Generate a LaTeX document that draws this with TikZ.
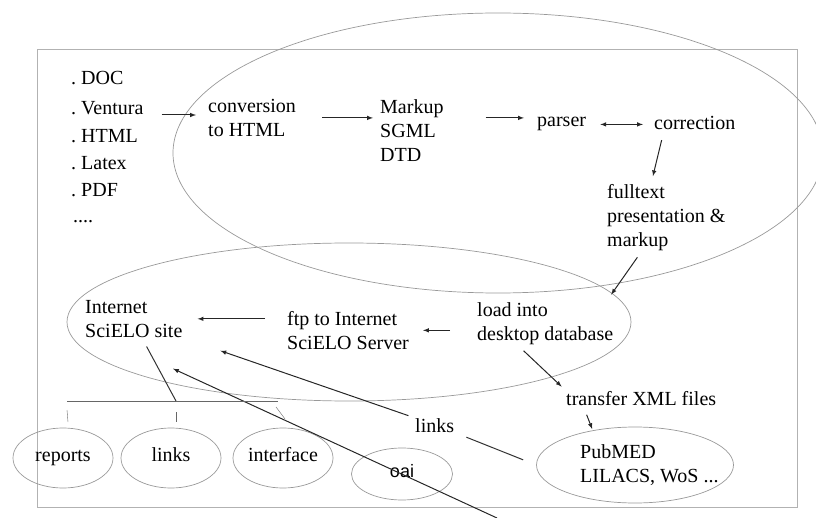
\documentclass[tikz,border=0pt]{standalone}
\usepackage{fontspec}
\setmainfont{Liberation Serif}
\newfontfamily\oaifont{Liberation Sans}
\usetikzlibrary{shapes.geometric}

\tikzset{
  txt/.style={inner sep=0pt, font=\fontsize{20}{24}\selectfont, align=left},
  arr/.style={-latex, line width=1pt, draw=black!85},
  wire/.style={line width=1pt, draw=black!80},
  bubble/.style={ellipse, draw=black!40, line width=0.7pt, inner sep=0pt,
    minimum width=100pt, minimum height=60pt, text height=12pt, text depth=6pt,
    font=\fontsize{20}{24}\selectfont},
  group/.style={draw=black!40, line width=0.7pt},
}

\begin{document}
\begin{tikzpicture}[x=1pt,y=-1pt]
\useasboundingbox (0,0) rectangle (816,518);

% frame and the two big groups
\draw[draw=black!30, line width=0.8pt] (37,49) rectangle (797,507);
\draw[group] (498,153) ellipse [x radius=325, y radius=140];
\draw[group] (349,322) ellipse [x radius=282, y radius=79];

% source formats
\foreach \i/\lab/\y in {1/DOC/85, 2/Ventura/115, 3/HTML/143, 4/Latex/170, 5/PDF/197} {
  \node[txt, anchor=base west] (fmt\i) at (71,\y) {.\ \lab};
}
\node[txt, anchor=base west] (fmt6) at (73,223) {....};

% processing chain
\node[txt, anchor=north west] (conv) at (208,99) {conversion\\to HTML};
\node[txt, anchor=north west] (markup) at (380,99) {Markup\\SGML\\DTD};
\node[txt, anchor=base west] (parser) at (537,127) {parser};
\node[txt, anchor=base west] (corr) at (654,130) {correction};
\node[txt, anchor=north west] (fulltext) at (607,184) {fulltext\\presentation \&\\markup};
\node[txt, anchor=north west] (load) at (477,302) {load into\\desktop database};
\node[txt, anchor=north west] (ftp) at (287,311) {ftp to Internet\\SciELO Server};
\node[txt, anchor=north west] (site) at (85,300) {Internet\\SciELO site};
\node[txt, anchor=base west] (transfer) at (566,405) {transfer XML files};
\node[txt, anchor=base west] (links) at (415,432) {links};

% bubbles at the bottom
\node[bubble] (reports) at (63,458) {reports};
\node[bubble] (linksb) at (171,458) {links};
\node[bubble] (iface) at (283,458) {interface};
\node[bubble, minimum width=101pt, minimum height=52pt,
  font=\oaifont\fontsize{18}{20}\selectfont] (oai) at (402,474) {oai};
\node[bubble, minimum width=197pt, minimum height=76pt] (pubell) at (635,465) {};
\node[txt, anchor=north west] (pubmed) at (580,444) {PubMED\\LILACS, WoS ...};

% arrows of the chain
\draw[arr, shorten <=18pt, shorten >=12pt] (fmt2.base east) -- (fmt2.base east -| conv.west);
\draw[arr, shorten <=26pt, shorten >=7pt] (conv.east) -- (conv.east -| markup.west);
\draw[arr, shorten <=42pt, shorten >=13pt] (conv.east -| markup.east) -- (conv.east -| parser.west);
\draw[arr, latex-latex, shorten <=14pt, shorten >=11pt] (parser.east) -- (parser.east -| corr.west);
\draw[arr, shorten <=10pt, shorten >=8pt] ([xshift=10pt]corr.south west) -- ([xshift=44pt]fulltext.north west);
\draw[arr, shorten <=8pt, shorten >=9pt] ([xshift=35pt]fulltext.south west) -- ([xshift=129pt]load.north west);
\draw[arr, shorten <=27pt, shorten >=14pt] (ftp.east -| load.west) -- (ftp.east);
\draw[arr, shorten <=22pt, shorten >=15pt] (site.east -| ftp.west) -- (site.east);
\draw[arr, shorten <=9pt, shorten >=6pt] ([xshift=40pt]load.south west) -- (transfer.north west);
\draw[arr, shorten <=10pt, shorten >=16pt] ([xshift=17pt]transfer.south west) -- ([xshift=18pt]pubmed.north west);

% links back to the site
\draw[wire, shorten <=14pt, shorten >=13pt] (pubell.west) -- (links.south east);
\draw[arr, shorten <=7pt, shorten >=40pt] (links.north west) -- (site.south east);
\coordinate (oaiend) at (497,518);
\draw[arr, shorten >=74pt] (oaiend) -- ([xshift=-28pt]site.south);

% bar from the site to the bubbles
\coordinate (barL) at (67,401);
\coordinate (barM) at (176,401);
\coordinate (barR) at (278,401);
\draw[wire, draw=black!60] (barL) -- (barR);
\draw[wire, shorten <=10pt] ([xshift=8pt]site.south) -- (barM);
\draw[draw=black!60] (67,410) -- (68,422);
\draw[draw=black!60] (176,412) -- (176,422);
\draw[draw=black!60] (276,407) -- (285,419);

\end{tikzpicture}
\end{document}
